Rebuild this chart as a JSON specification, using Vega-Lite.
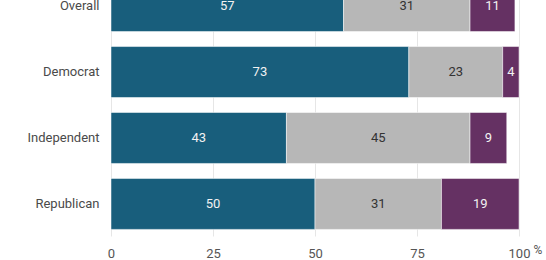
{
  "$schema": "https://vega.github.io/schema/vega-lite/v6.json",
  "width": 408,
  "height": 262,
  "autosize": {"type": "none"},
  "padding": {"left": 111, "top": -26, "right": 27, "bottom": 24},
  "background": "white",
  "config": {"font": "Roboto", "view": {"stroke": null}},
  "data": {
    "values": [
      {"group": "Overall", "response": "Favor", "ord": 1, "value": 57},
      {"group": "Overall", "response": "Oppose", "ord": 2, "value": 31},
      {"group": "Overall", "response": "Not sure", "ord": 3, "value": 11},
      {"group": "Democrat", "response": "Favor", "ord": 1, "value": 73},
      {"group": "Democrat", "response": "Oppose", "ord": 2, "value": 23},
      {"group": "Democrat", "response": "Not sure", "ord": 3, "value": 4},
      {"group": "Independent", "response": "Favor", "ord": 1, "value": 43},
      {"group": "Independent", "response": "Oppose", "ord": 2, "value": 45},
      {"group": "Independent", "response": "Not sure", "ord": 3, "value": 9},
      {"group": "Republican", "response": "Favor", "ord": 1, "value": 50},
      {"group": "Republican", "response": "Oppose", "ord": 2, "value": 31},
      {"group": "Republican", "response": "Not sure", "ord": 3, "value": 19}
    ]
  },
  "transform": [
    {"stack": "value", "groupby": ["group"], "sort": [{"field": "ord", "order": "ascending"}], "as": ["v0", "v1"]},
    {"calculate": "(datum.v0 + datum.v1) / 2", "as": "mid"}
  ],
  "encoding": {
    "y": {
      "field": "group",
      "type": "nominal",
      "sort": ["Overall", "Democrat", "Independent", "Republican"],
      "scale": {"paddingInner": 0.227, "paddingOuter": 0.1},
      "axis": {"title": null, "ticks": false, "domain": false, "labelPadding": 12, "labelFontSize": 13, "labelColor": "#4a4a4a"}
    }
  },
  "layer": [
    {
      "mark": {"type": "bar", "stroke": "white", "strokeWidth": 1, "strokeOpacity": 0.5},
      "encoding": {
        "x": {
          "field": "v0",
          "type": "quantitative",
          "scale": {"domain": [0, 100]},
          "axis": {
            "values": [0, 25, 50, 75, 100],
            "ticks": false,
            "domain": false,
            "gridColor": "#e6e6e6",
            "labelFontSize": 13,
            "labelColor": "#555555",
            "labelPadding": 11,
            "labelFlush": false,
            "title": "%",
            "titleAnchor": null,
            "titleAlign": "left",
            "titleBaseline": "middle",
            "titleX": 422,
            "titleY": 13,
            "titleFontSize": 12,
            "titleFontWeight": "normal",
            "titleColor": "#555555"
          }
        },
        "x2": {"field": "v1"},
        "color": {
          "field": "response",
          "type": "nominal",
          "scale": {"domain": ["Favor", "Oppose", "Not sure"], "range": ["#185e7c", "#b7b7b7", "#653163"]},
          "legend": null
        }
      }
    },
    {
      "mark": {"type": "text", "fontSize": 13},
      "encoding": {
        "x": {"field": "mid", "type": "quantitative"},
        "text": {"field": "value", "type": "quantitative"},
        "color": {
          "condition": {"test": "datum.response === 'Oppose'", "value": "#333333"},
          "value": "#f2f2f2"
        }
      }
    }
  ]
}
